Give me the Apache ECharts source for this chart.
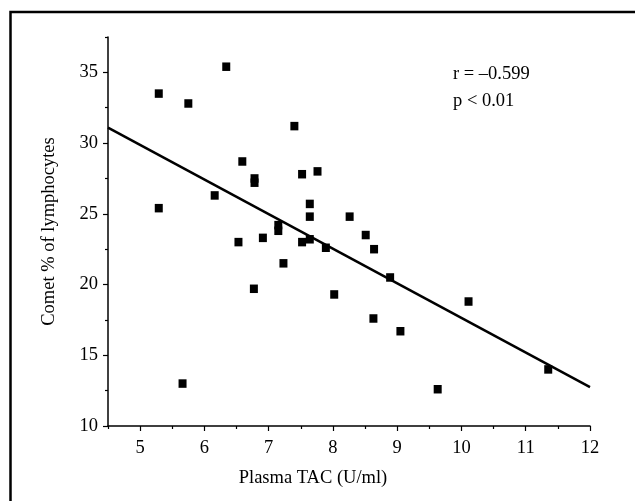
<!DOCTYPE html>
<html>
<head>
<meta charset="utf-8">
<script src="https://cdn.jsdelivr.net/npm/echarts@6/dist/echarts.min.js"></script>
<style>
  html, body { margin: 0; padding: 0; background: #fff; }
  #main { width: 635px; height: 501px; }
</style>
</head>
<body>
<div id="main"></div>
<script>
// 数据
var tacValues = [5.29, 5.75, 6.34, 5.29, 7.40, 6.59, 6.78, 6.78, 6.16, 7.52, 7.76,
  7.64, 7.64, 7.15, 7.15, 6.53, 6.91, 7.52, 7.64, 6.77, 7.23, 7.89, 8.02, 8.26,
  8.51, 8.64, 8.89, 8.63, 9.05, 9.63, 10.11, 11.35, 5.66];
var cometValues = [33.5, 32.8, 35.4, 25.4, 31.2, 28.7, 27.5, 27.2, 26.3, 27.8, 28.0,
  25.7, 24.8, 24.2, 23.8, 23.0, 23.3, 23.0, 23.2, 19.7, 21.5, 22.6, 19.3, 24.8,
  23.5, 22.5, 20.5, 17.6, 16.7, 12.6, 18.8, 14.0, 13.0];
var fitX = [4.5, 12];
var fitY = [31.1, 12.75];
var xTicks = [5, 6, 7, 8, 9, 10, 11, 12];
var xMinorTicks = [4.5, 5.5, 6.5, 7.5, 8.5, 9.5, 10.5, 11.5];
var yTicks = [10, 15, 20, 25, 30, 35];
var yMinorTicks = [12.5, 17.5, 22.5, 27.5, 32.5, 37.5];
var statText = ['r = \u20130.599', 'p < 0.01'];

(function () {
  var chart = echarts.init(document.getElementById('main'));
  var font = '"Liberation Serif", "Times New Roman", serif';
  var fs = 18.5;
  var points = tacValues.map(function (x, i) { return [x, cometValues[i]]; });
  var fit = fitX.map(function (x, i) { return [x, fitY[i]]; });

  var baseAxis = {
    axisLine: {lineStyle: {color: '#000', width: 1.5}},
    splitLine: {show: false},
  };

  var option = {
    backgroundColor: '#fff',
    animation: false,
    textStyle: {fontFamily: font},
    grid: {left: 108, right: 45, top: 37, bottom: 75},
    graphic: [
      {
        type: 'rect',
        shape: {x: 10.5, y: 12, width: 800, height: 700},
        style: {fill: 'none', stroke: '#000', lineWidth: 2.5},
        silent: true,
      },
      {
        type: 'text',
        left: 453, top: 65,
        style: {text: statText[0], font: fs + 'px ' + font, fill: '#000'},
      },
      {
        type: 'text',
        left: 453, top: 92,
        style: {text: statText[1], font: fs + 'px ' + font, fill: '#000'},
      },
    ],
    xAxis: [
      Object.assign({}, baseAxis, {
        type: 'value', min: 4.5, max: 12,
        name: 'Plasma TAC (U/ml)', nameLocation: 'middle', nameGap: 43,
        nameTextStyle: {fontFamily: font, fontSize: fs, color: '#000', padding: [0, 72, 0, 0]},
        axisTick: {show: true, length: 5, lineStyle: {color: '#000', width: 1.2}, customValues: xTicks},
        axisLabel: {color: '#000', fontFamily: font, fontSize: fs, margin: 13, customValues: xTicks},
      }),
      Object.assign({}, baseAxis, {
        type: 'value', min: 4.5, max: 12, position: 'bottom',
        axisLine: {show: false},
        axisTick: {show: true, length: 3, lineStyle: {color: '#000', width: 1.2}, customValues: xMinorTicks},
        axisLabel: {show: false},
      }),
    ],
    yAxis: [
      Object.assign({}, baseAxis, {
        type: 'value', min: 10, max: 37.5,
        name: 'Comet % of lymphocytes', nameLocation: 'middle', nameGap: 49,
        nameTextStyle: {fontFamily: font, fontSize: fs, color: '#000'},
        axisTick: {show: true, length: 5, lineStyle: {color: '#000', width: 1.2}, customValues: yTicks},
        axisLabel: {color: '#000', fontFamily: font, fontSize: fs, margin: 10, customValues: yTicks},
      }),
      Object.assign({}, baseAxis, {
        type: 'value', min: 10, max: 37.5, position: 'left',
        axisLine: {show: false},
        axisTick: {show: true, length: 3, lineStyle: {color: '#000', width: 1.2}, customValues: yMinorTicks},
        axisLabel: {show: false},
      }),
    ],
    series: [
      {
        type: 'scatter',
        data: points,
        symbol: 'rect',
        symbolSize: [8, 8.5],
        itemStyle: {color: '#000', opacity: 1},
      },
      {
        type: 'line',
        data: fit,
        symbol: 'none',
        lineStyle: {color: '#000', width: 2.5},
      },
    ],
  };
  chart.setOption(option);
  window.addEventListener('resize', function () {
    chart.resize();
  });
})();
</script>
</body>
</html>
